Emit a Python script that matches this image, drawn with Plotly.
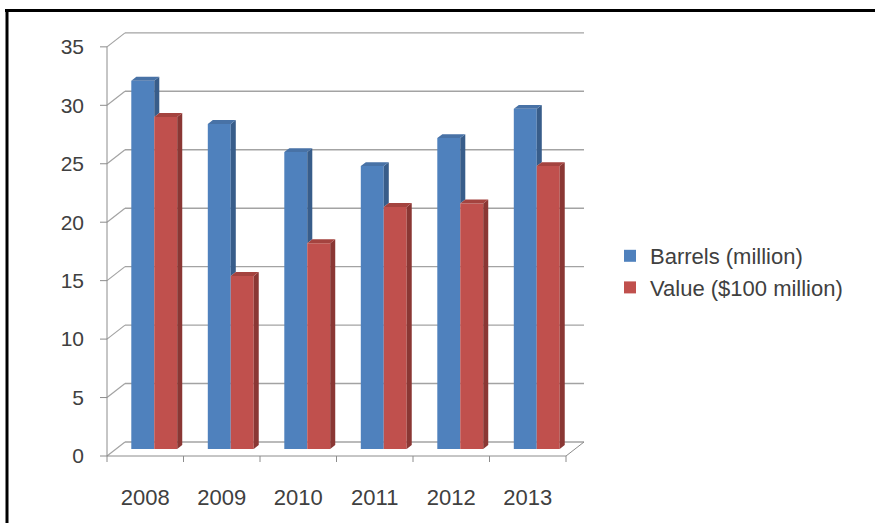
import plotly.graph_objects as go

# ---- data ----
years = ["2008", "2009", "2010", "2011", "2012", "2013"]
barrels = [31.5, 27.8, 25.4, 24.2, 26.6, 29.1]
value = [28.4, 14.8, 17.6, 20.7, 21.0, 24.2]
series_names = ["Barrels (million)", "Value ($100 million)"]
y_ticks = [0, 5, 10, 15, 20, 25, 30, 35]

# ---- layout geometry ----
W, H = 875, 523
L, R, T, B = 99, 286, 28, 60
X0PX, CATPX = 107, 76.5      # front plane: x=0 pixel, px per category
Y0PX, UNITPX = 456, 11.69    # front plane: y=0 pixel, px per unit
xr = [(L - X0PX) / CATPX, (W - R - X0PX) / CATPX]
yr = [(Y0PX - (H - B)) / UNITPX, (Y0PX - T) / UNITPX]
DX, DY = 18 / CATPX, 14 / UNITPX        # depth of floor / walls
MX, MY = DX * 0.5, DY * 0.5             # plane of bar front faces
SX, SY = DX * 0.28, DY * 0.28           # bar depth
BW = 0.3                                # bar width (category units)
n = len(years)

BLUE, BLUE_SIDE, BLUE_TOP = "#4F81BD", "#385D8A", "#4872A6"
RED, RED_SIDE, RED_TOP = "#C0504D", "#8A3734", "#A4433F"
GRID = "#a3a3a3"
AXIS = "#8c8c8c"
TXT = "#404040"
FONT = "Liberation Sans, Arial, sans-serif"

fig = go.Figure()

centers = [i + 0.5 + MX for i in range(n)]
fig.add_trace(go.Bar(x=centers, y=barrels, base=MY, width=BW, offset=-BW,
                     marker=dict(color=BLUE, line=dict(width=0)),
                     name=series_names[0], legendgroup="a"))
fig.add_trace(go.Bar(x=centers, y=value, base=MY, width=BW, offset=0,
                     marker=dict(color=RED, line=dict(width=0)),
                     name=series_names[1], legendgroup="b"))


def poly_trace(xs, ys, color):
    return go.Scatter(x=xs, y=ys, fill="toself", fillcolor=color, mode="lines",
                      line=dict(width=0, color=color), showlegend=False,
                      hoverinfo="skip")


bsx, bsy, btx, bty = [], [], [], []
rsx, rsy, rtx, rty = [], [], [], []
for i in range(n):
    c = centers[i]
    # blue bar
    x0, x1 = c - BW, c
    lo, hi = MY + min(barrels[i], value[i]), MY + barrels[i]
    bsx += [x1, x1 + SX, x1 + SX, x1, x1, None]
    bsy += [lo, lo + SY, hi + SY, hi, lo, None]
    btx += [x0, x1, x1 + SX, x0 + SX, x0, None]
    bty += [hi, hi, hi + SY, hi + SY, hi, None]
    # red bar
    x0, x1 = c, c + BW
    lo, hi = MY, MY + value[i]
    rsx += [x1, x1 + SX, x1 + SX, x1, x1, None]
    rsy += [lo, lo + SY, hi + SY, hi, lo, None]
    rtx += [x0, x1, x1 + SX, x0 + SX, x0, None]
    rty += [hi, hi, hi + SY, hi + SY, hi, None]

fig.add_trace(poly_trace(bsx, bsy, BLUE_SIDE))
fig.add_trace(poly_trace(btx, bty, BLUE_TOP))
fig.add_trace(poly_trace(rsx, rsy, RED_SIDE))
fig.add_trace(poly_trace(rtx, rty, RED_TOP))

shapes = []


def line(x0, y0, x1, y1, color, width=1.0, layer="below"):
    shapes.append(dict(type="line", xref="x", yref="y",
                       x0=x0, y0=y0, x1=x1, y1=y1, layer=layer,
                       line=dict(color=color, width=width)))


for v in y_ticks:
    line(DX, v + DY, n + DX, v + DY, GRID, 1.4)          # back wall gridline
    line(0, v, DX, v + DY, GRID, 1.2)                    # side-wall connector
    line(-7 / CATPX, v, 0, v, AXIS, 1.0)                 # front tick mark
line(0, 0, 0, y_ticks[-1], AXIS, 1.0)                    # front value axis
line(0, 0, n, 0, AXIS, 1.0)                              # front category axis
line(n, 0, n + DX, DY, AXIS, 1.0)                        # floor right edge
for k in range(n + 1):
    line(k, 0, k, -6 / UNITPX, AXIS, 1.0)                # category ticks

# outer frame (top and left black border)
pw, ph = W - L - R, H - T - B


def px_to_paper_x(px):
    return (px - L) / pw


def px_to_paper_y(py):
    return (H - B - py) / ph


shapes.append(dict(type="line", xref="paper", yref="paper",
                   x0=px_to_paper_x(5), x1=px_to_paper_x(W + 5),
                   y0=px_to_paper_y(10.5), y1=px_to_paper_y(10.5),
                   line=dict(color="black", width=3), layer="above"))
shapes.append(dict(type="line", xref="paper", yref="paper",
                   x0=px_to_paper_x(7), x1=px_to_paper_x(7),
                   y0=px_to_paper_y(9), y1=px_to_paper_y(H + 5),
                   line=dict(color="black", width=3), layer="above"))

fig.update_layout(
    width=W, height=H,
    margin=dict(l=L, r=R, t=T, b=B, pad=0),
    paper_bgcolor="white", plot_bgcolor="white",
    barmode="overlay",
    showlegend=True,
    font=dict(family=FONT, size=21, color=TXT),
    shapes=shapes,
    xaxis=dict(range=xr, showgrid=False, zeroline=False, showline=False,
               tickvals=[i + 0.5 for i in range(n)], ticktext=years,
               ticks="", ticklabelstandoff=19, fixedrange=True,
               tickfont=dict(size=22, color=TXT, family=FONT)),
    yaxis=dict(range=yr, showgrid=False, zeroline=False, showline=False,
               tickvals=y_ticks, ticks="", ticklabelstandoff=14,
               fixedrange=True,
               tickfont=dict(size=21, color=TXT, family=FONT)),
    legend=dict(x=px_to_paper_x(610), xanchor="left",
                y=px_to_paper_y(235), yanchor="top",
                bgcolor="rgba(0,0,0,0)", borderwidth=0,
                font=dict(size=22, color=TXT, family=FONT),
                tracegroupgap=10, itemwidth=30, traceorder="normal"),
)

fig.write_html("out.html", config={"displayModeBar": False})
